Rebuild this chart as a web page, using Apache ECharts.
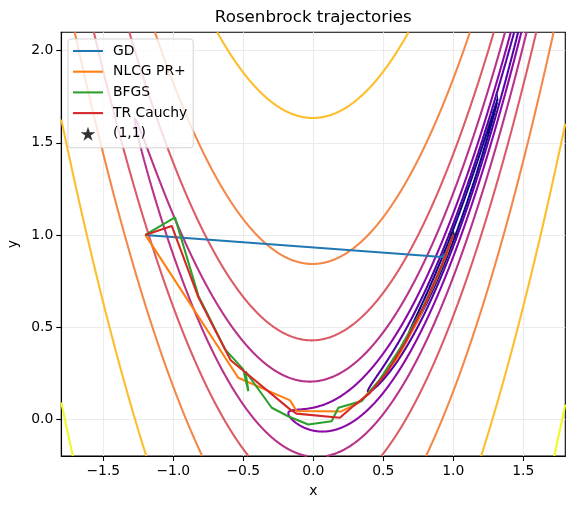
<!DOCTYPE html>
<html><head><meta charset="utf-8">
<script src="https://cdn.jsdelivr.net/npm/echarts@6/dist/echarts.min.js"></script>
<style>html,body{margin:0;padding:0;background:#fff}#c{width:575px;height:509px}</style>
</head><body><div id="c"></div><script>
// ---- data ----
const contourLevels = [0.1, 0.3728, 1.389, 5.179, 19.31, 71.97, 268.3, 1000];
const contourColors = ['#0d0887','#5302a3','#8b0aa5','#b83289','#db5c68','#f48849','#febd2a','#f0f921'];
const xTicks = [-1.5, -1.0, -0.5, 0.0, 0.5, 1.0, 1.5];
const yTicks = [0.0, 0.5, 1.0, 1.5, 2.0];
const xRange = [-1.8, 1.8];
const yRange = [-0.2, 2.1];

const gdX = [-1.2, 0.921, 0.95, 0.975, 1.0];
const gdY = [1.0, 0.880, 0.902, 0.950, 1.0];

const nlcgX = [-1.2, -0.536, -0.166, -0.119, 0.20, 0.33, 0.45, 0.60, 0.75, 0.88, 0.95, 1.0];
const nlcgY = [1.0, 0.225, 0.102, 0.044, 0.042, 0.092, 0.19, 0.33, 0.54, 0.76, 0.89, 1.0];

const bfgsX = [-1.2, -0.988, -0.82, -0.76, -0.63, -0.50, -0.464, -0.485, -0.297, -0.18, -0.036, 0.131, 0.179, 0.346, 0.47, 0.62, 0.78, 0.90, 1.0];
const bfgsY = [1.0, 1.095, 0.668, 0.578, 0.379, 0.27, 0.152, 0.26, 0.062, 0.016, -0.029, -0.011, 0.062, 0.098, 0.21, 0.385, 0.60, 0.80, 1.0];

const trX = [-1.2, -1.011, -0.82, -0.76, -0.59, -0.166, -0.12, 0.19, 0.286, 0.405, 0.524, 0.66, 0.80, 0.92, 1.0];
const trY = [1.0, 1.049, 0.66, 0.57, 0.32, 0.053, 0.03, 0.008, 0.071, 0.143, 0.252, 0.42, 0.63, 0.84, 1.0];

const starX = [1.0];
const starY = [1.0];

const seriesNames = ['GD', 'NLCG PR+', 'BFGS', 'TR Cauchy', '(1,1)'];
const seriesColors = ['#1f77b4', '#ff7f0e', '#2ca02c', '#d62728', '#000000'];

// ---- contour computation (marching squares on the Rosenbrock function) ----
function rosen(x, y) { return (1 - x) * (1 - x) + 100 * (y - x * x) * (y - x * x); }

function contourLines(level, nx, ny) {
  const x0 = xRange[0], x1 = xRange[1], y0 = yRange[0], y1 = yRange[1];
  const dx = (x1 - x0) / nx, dy = (y1 - y0) / ny;
  const W = nx + 1;
  const V = new Float64Array(W * (ny + 1));
  for (let j = 0; j <= ny; j++) for (let i = 0; i <= nx; i++) V[j * W + i] = rosen(x0 + i * dx, y0 + j * dy);
  const H = nx * (ny + 1);
  const hId = (i, j) => j * nx + i;
  const vId = (i, j) => H + j * W + i;
  function edgePt(id) {
    if (id < H) {
      const j = Math.floor(id / nx), i = id % nx;
      const a = V[j * W + i], b = V[j * W + i + 1];
      const t = (level - a) / (b - a);
      return [x0 + (i + t) * dx, y0 + j * dy];
    } else {
      const k = id - H;
      const j = Math.floor(k / W), i = k % W;
      const a = V[j * W + i], b = V[(j + 1) * W + i];
      const t = (level - a) / (b - a);
      return [x0 + i * dx, y0 + (j + t) * dy];
    }
  }
  const segs = [];
  const adj = new Map();
  function add(e1, e2) {
    const k = segs.length; segs.push([e1, e2]);
    if (!adj.has(e1)) adj.set(e1, []); adj.get(e1).push(k);
    if (!adj.has(e2)) adj.set(e2, []); adj.get(e2).push(k);
  }
  for (let j = 0; j < ny; j++) {
    for (let i = 0; i < nx; i++) {
      const a = V[j * W + i], b = V[j * W + i + 1], c = V[(j + 1) * W + i + 1], d = V[(j + 1) * W + i];
      const code = (a > level ? 1 : 0) | (b > level ? 2 : 0) | (c > level ? 4 : 0) | (d > level ? 8 : 0);
      if (code === 0 || code === 15) continue;
      const B = hId(i, j), T = hId(i, j + 1), L = vId(i, j), R = vId(i + 1, j);
      const ctr = (a + b + c + d) / 4 > level;
      switch (code) {
        case 1: add(L, B); break;
        case 2: add(B, R); break;
        case 3: add(L, R); break;
        case 4: add(R, T); break;
        case 5: if (ctr) { add(B, R); add(L, T); } else { add(L, B); add(R, T); } break;
        case 6: add(B, T); break;
        case 7: add(L, T); break;
        case 8: add(T, L); break;
        case 9: add(B, T); break;
        case 10: if (ctr) { add(L, B); add(R, T); } else { add(B, R); add(L, T); } break;
        case 11: add(R, T); break;
        case 12: add(L, R); break;
        case 13: add(B, R); break;
        case 14: add(L, B); break;
      }
    }
  }
  const used = new Uint8Array(segs.length);
  const lines = [];
  function walk(start, out) {
    let cur = start;
    while (true) {
      const list = adj.get(cur);
      let nxt = -1;
      for (const k of list) if (!used[k]) { nxt = k; break; }
      if (nxt < 0) break;
      used[nxt] = 1;
      const sg = segs[nxt];
      const other = sg[0] === cur ? sg[1] : sg[0];
      out.push(other);
      cur = other;
    }
  }
  for (let s = 0; s < segs.length; s++) {
    if (used[s]) continue;
    used[s] = 1;
    const fwd = [segs[s][0], segs[s][1]];
    walk(segs[s][1], fwd);
    const back = [];
    walk(segs[s][0], back);
    const chain = back.reverse().concat(fwd);
    lines.push(chain.map(edgePt));
  }
  return lines;
}

const FONT = 'DejaVu Sans';
const LW = 2.08;
const zip = (xs, ys) => xs.map((x, i) => [x, ys[i]]);
const fmt = v => (v < 0 ? '\u2212' : '') + Math.abs(v).toFixed(1);
const linePath = 'path://M0,0 L30,0 L30,2.08 L0,2.08 Z';
const starPath = 'path://M0,-1 L0.2245,-0.309 L0.951,-0.309 L0.363,0.118 L0.588,0.809 L0,0.382 L-0.588,0.809 L-0.363,0.118 L-0.951,-0.309 L-0.2245,-0.309 Z';

const series = [];
contourLevels.forEach((lv, k) => {
  const lines = contourLines(lv, 720, 460);
  series.push({
    type: 'lines', name: 'contour' + k, coordinateSystem: 'cartesian2d', polyline: true,
    data: lines.map(c => ({ coords: c })),
    lineStyle: { color: contourColors[k], width: LW, opacity: 1, curveness: 0 },
    silent: true, z: 2, animation: false, clip: true, large: false
  });
});
const trajX = [gdX, nlcgX, bfgsX, trX];
const trajY = [gdY, nlcgY, bfgsY, trY];
for (let k = 0; k < 4; k++) {
  series.push({
    type: 'line', name: seriesNames[k], data: zip(trajX[k], trajY[k]),
    symbol: 'none', color: seriesColors[k],
    lineStyle: { width: LW, color: seriesColors[k] }, itemStyle: { color: seriesColors[k] },
    z: 3, animation: false, silent: true
  });
}
series.push({
  type: 'scatter', name: seriesNames[4], data: zip(starX, starY),
  symbol: starPath, symbolSize: 12, symbolKeepAspect: true,
  itemStyle: { color: seriesColors[4] }, color: seriesColors[4], z: 1, animation: false, silent: true
});

const chart = echarts.init(document.getElementById('c'), null, { renderer: 'canvas' });
chart.setOption({
  animation: false,
  backgroundColor: '#ffffff',
  graphic: [{
    type: 'text', x: 313.3, y: 18, z: 10,
    style: { text: 'Rosenbrock trajectories', fontSize: 16.7, fontFamily: FONT, fill: '#000', align: 'center', verticalAlign: 'middle' }
  }],
  grid: { left: 61.3, top: 32.3, width: 504, height: 423.7, show: true, borderColor: '#000', borderWidth: 1.1, backgroundColor: 'transparent', containLabel: false, outerBoundsMode: 'none' },
  legend: {
    orient: 'vertical', left: 68, top: 39,
    itemWidth: 30, itemHeight: 14, itemGap: 6.7,
    padding: [5, 6, 7, 5],
    backgroundColor: 'rgba(255,255,255,0.8)', borderColor: '#d3d3d3', borderWidth: 1, borderRadius: 3,
    textStyle: { fontSize: 13.9, fontFamily: FONT, color: '#000', padding: [0, 0, 0, 5] },
    selectedMode: false, z: 10,
    data: [
      { name: seriesNames[0], icon: linePath },
      { name: seriesNames[1], icon: linePath },
      { name: seriesNames[2], icon: linePath },
      { name: seriesNames[3], icon: linePath },
      { name: seriesNames[4], icon: starPath }
    ]
  },
  xAxis: {
    type: 'value', min: xRange[0], max: xRange[1],
    name: 'x', nameLocation: 'middle', nameGap: 28,
    nameTextStyle: { fontSize: 13.9, fontFamily: FONT, color: '#000' },
    axisLine: { show: true, onZero: false, lineStyle: { color: '#000', width: 1.1 } },
    axisTick: { show: true, length: 5, lineStyle: { color: '#000', width: 1.1 }, customValues: xTicks },
    axisLabel: { customValues: xTicks, formatter: fmt, fontSize: 13.9, fontFamily: FONT, color: '#000', margin: 8 },
    splitLine: { show: true, lineStyle: { color: '#ebebeb', width: 1.1 } }
  },
  yAxis: {
    type: 'value', min: yRange[0], max: yRange[1],
    name: 'y', nameLocation: 'middle', nameGap: 37, nameRotate: 90,
    nameTextStyle: { fontSize: 13.9, fontFamily: FONT, color: '#000' },
    axisLine: { show: true, onZero: false, lineStyle: { color: '#000', width: 1.1 } },
    axisTick: { show: true, length: 5, lineStyle: { color: '#000', width: 1.1 }, customValues: yTicks },
    axisLabel: { customValues: yTicks, formatter: fmt, fontSize: 13.9, fontFamily: FONT, color: '#000', margin: 8 },
    splitLine: { show: true, lineStyle: { color: '#ebebeb', width: 1.1 } }
  },
  series: series
});
</script></body></html>
